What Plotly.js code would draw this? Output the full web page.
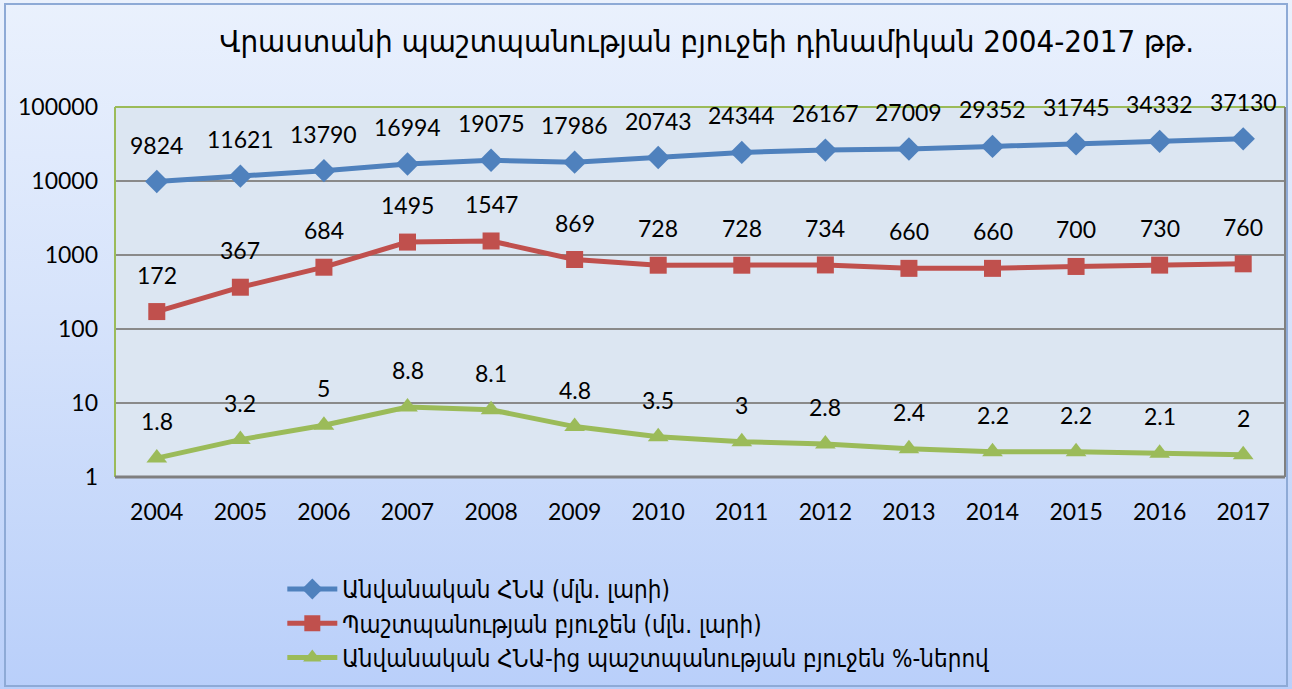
<!DOCTYPE html>
<html>
<head>
<meta charset="utf-8">
<script src="https://cdn.plot.ly/plotly-3.0.1.min.js"></script>
<style>
html,body{margin:0;padding:0;}
#wrap{position:relative;width:1292px;height:689px;background:linear-gradient(to bottom,#eaf1fd 0%,#d6e3fb 45%,#b9cffa 100%);}
#chart{position:absolute;left:0;top:0;width:1292px;height:689px;}
#frame{position:absolute;left:4px;top:3px;width:1280px;height:680px;border:2px solid #8eaad6;pointer-events:none;}
</style>
</head>
<body>
<div id="wrap"><div id="chart"></div><div id="frame"></div></div>
<script>
const years = ['2004','2005','2006','2007','2008','2009','2010','2011','2012','2013','2014','2015','2016','2017'];
const gdp = [9824,11621,13790,16994,19075,17986,20743,24344,26167,27009,29352,31745,34332,37130];
const defence = [172,367,684,1495,1547,869,728,728,734,660,660,700,730,760];
const share = [1.8,3.2,5,8.8,8.1,4.8,3.5,3,2.8,2.4,2.2,2.2,2.1,2];
const names = ['Անվանական ՀՆԱ (մլն. լարի)','Պաշտպանության բյուջեն (մլն. լարի)','Անվանական ՀՆԱ-ից պաշտպանության բյուջեն %-ներով'];
const colors = ['#4F81BD','#C0504D','#9BBB59'];
const symbols = ['diamond','square','triangle-up'];
const series = [gdp, defence, share];
const font = 'Lato, "Open Sans", "DejaVu Sans", sans-serif';
const armFont = '"DejaVu Sans Condensed", "DejaVu Sans", "Noto Sans", sans-serif';

const traces = series.map((s,i)=>({
  x: years, y: s, name: names[i], type:'scatter', mode:'lines+markers',
  line:{color:colors[i], width:5},
  marker:{color:colors[i], symbol:symbols[i], size: i===1?17:18},
  legendgroup:'g'+i,
  hoverinfo:'x+y'
}));

const annotations = [];
series.forEach((s,i)=>{
  s.forEach((v,j)=>{
    annotations.push({x:j, y:Math.log10(v), xref:'x', yref:'y', text:String(v),
      showarrow:false, yshift:37, font:{family:font, size:23, color:'#000'}});
  });
});

const layout = {
  width:1292, height:689,
  paper_bgcolor:'rgba(0,0,0,0)',
  plot_bgcolor:'#DCE6F2',
  margin:{l:115, r:7, t:107, b:212},
  title:{text:'Վրաստանի պաշտպանության բյուջեի դինամիկան 2004-2017 թթ.', x:0.547, xanchor:'center', y:0.94, yanchor:'middle',
    font:{family:armFont, size:31, color:'#000'}},
  xaxis:{type:'category', range:[-0.5,13.5], showgrid:false, zeroline:false, showline:false,
    ticks:'', tickfont:{family:font, size:23, color:'#000'}, ticklabelstandoff:19},
  yaxis:{type:'log', range:[0,5], tickvals:[1,10,100,1000,10000,100000], ticktext:['1','10','100','1000','10000','100000'],
    showgrid:true, gridcolor:'#8a8a8a', gridwidth:1.5, zeroline:false, showline:false, ticks:'',
    tickfont:{family:font, size:23, color:'#000'}, ticklabelstandoff:16},
  shapes:[
    {type:'line', xref:'paper', yref:'paper', x0:0, x1:0, y0:0, y1:1, line:{color:'#9BBB59', width:2}},
    {type:'line', xref:'paper', yref:'paper', x0:0, x1:1, y0:1, y1:1, line:{color:'#9BBB59', width:2}},
    {type:'line', xref:'paper', yref:'paper', x0:1, x1:1, y0:0, y1:1, line:{color:'#7f7f7f', width:2}},
    {type:'line', xref:'paper', yref:'paper', x0:0, x1:1, y0:0, y1:0, line:{color:'#7f7f7f', width:3}}
  ],
  showlegend:true,
  legend:{x:0.143, xanchor:'left', y:-0.243, yanchor:'top', bgcolor:'rgba(0,0,0,0)',
    font:{family:armFont, size:24, color:'#000'}, traceorder:'grouped', tracegroupgap:0, itemwidth:50},
  annotations: annotations
};

Plotly.newPlot('chart', traces, layout, {displayModeBar:false});
</script>
</body>
</html>
